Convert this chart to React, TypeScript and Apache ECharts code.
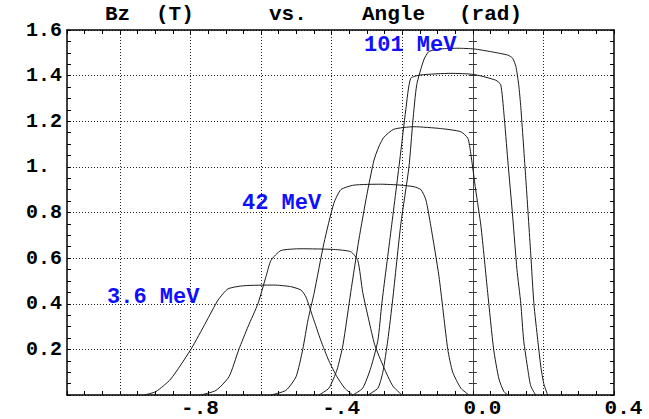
import React, { useEffect, useRef } from "react";
import * as echarts from "echarts";

// ---- data (angle in rad, Bz in T) ----
const c1X = [-0.932, -0.898, -0.856, -0.799, -0.756, -0.722, -0.694, -0.649, -0.564, -0.516, -0.487, -0.473, -0.453, -0.431, -0.408, -0.385, -0.363, -0.34];
const c1Y = [0, 0.015, 0.07, 0.2, 0.32, 0.416, 0.465, 0.479, 0.482, 0.475, 0.46, 0.43, 0.34, 0.24, 0.15, 0.08, 0.03, 0];

const c2X = [-0.771, -0.728, -0.691, -0.663, -0.637, -0.609, -0.586, -0.572, -0.544, -0.487, -0.394, -0.346, -0.326, -0.312, -0.295, -0.278, -0.252, -0.227, -0.201];
const c2Y = [0, 0.02, 0.08, 0.2, 0.3, 0.4, 0.52, 0.59, 0.633, 0.641, 0.638, 0.628, 0.59, 0.45, 0.33, 0.22, 0.12, 0.04, 0];

const c3X = [-0.572, -0.53, -0.501, -0.482, -0.467, -0.45, -0.422, -0.394, -0.374, -0.337, -0.261, -0.204, -0.167, -0.147, -0.133, -0.119, -0.096, -0.071, -0.057, -0.034, -0.011];
const c3Y = [0, 0.02, 0.08, 0.2, 0.33, 0.445, 0.665, 0.84, 0.9, 0.92, 0.924, 0.92, 0.913, 0.9, 0.855, 0.74, 0.52, 0.2, 0.1, 0.03, 0];

const c4X = [-0.436, -0.408, -0.385, -0.368, -0.346, -0.323, -0.3, -0.28, -0.266, -0.252, -0.224, -0.167, -0.091, -0.034, -0.014, -0.006, 0.008, 0.023, 0.042, 0.059, 0.074, 0.088, 0.099];
const c4Y = [0, 0.03, 0.11, 0.22, 0.45, 0.68, 0.88, 1.03, 1.09, 1.13, 1.165, 1.176, 1.168, 1.154, 1.125, 1.06, 0.9, 0.74, 0.45, 0.2, 0.07, 0.015, 0];

const c5X = [-0.34, -0.312, -0.289, -0.269, -0.258, -0.232, -0.207, -0.19, -0.176, -0.147, -0.062, 0.003, 0.065, 0.079, 0.088, 0.099, 0.113, 0.125, 0.136, 0.144, 0.156, 0.164, 0.178];
const c5Y = [0, 0.03, 0.12, 0.24, 0.4, 0.72, 1.03, 1.25, 1.388, 1.403, 1.41, 1.405, 1.38, 1.36, 1.235, 1.03, 0.78, 0.55, 0.4, 0.24, 0.11, 0.04, 0];

const c6X = [-0.297, -0.269, -0.255, -0.241, -0.227, -0.204, -0.181, -0.17, -0.159, -0.139, -0.125, -0.091, -0.042, 0.003, 0.051, 0.099, 0.113, 0.122, 0.13, 0.136, 0.15, 0.164, 0.173, 0.184, 0.193, 0.201, 0.212];
const c6Y = [0, 0.03, 0.1, 0.24, 0.42, 0.75, 1.0, 1.2, 1.36, 1.469, 1.505, 1.517, 1.52, 1.517, 1.505, 1.49, 1.476, 1.44, 1.36, 1.26, 0.95, 0.62, 0.4, 0.24, 0.12, 0.05, 0];

const curvesX = [c1X, c2X, c3X, c4X, c5X, c6X];
const curvesY = [c1Y, c2Y, c3Y, c4Y, c5Y, c6Y];

const xLabelValues = [-0.8, -0.4, 0, 0.4];
const xGridValues = [-1.0, -0.8, -0.6, -0.4, -0.2, 0.2];
const yLabelValues = [0.2, 0.4, 0.6, 0.8, 1.0, 1.2, 1.4, 1.6];

const titleParts = ["Bz", "(T)", "vs.", "Angle", "(rad)"];
const energyLabels = ["101 MeV", "42 MeV", "3.6 MeV"];

const X_MIN = -1.15;
const X_MAX = 0.4;
const Y_MIN = 0;
const Y_MAX = 1.6;

const FONT = "'Liberation Mono', 'Courier New', monospace";

function fmtX(v: number): string {
  const r = Math.round(v * 10) / 10;
  if (r === 0) return "0.0";
  if (r < 0) return "-." + String(Math.round(-r * 10));
  return r.toFixed(1);
}
function fmtY(v: number): string {
  const r = Math.round(v * 10) / 10;
  if (r === 1) return "1.\u00a0";
  return r.toFixed(1);
}

const dotted = { color: "#222", width: 1, type: [1, 2] as number[] };

export default function App() {
  const ref = useRef<HTMLDivElement>(null);
  useEffect(() => {
    if (!ref.current) return;
    const chart = echarts.init(ref.current, undefined, { renderer: "svg" });

    const frameLine = { show: true, onZero: false, lineStyle: { color: "#000", width: 1.5 } };
    const frameTick = { show: true, inside: true, length: 4, lineStyle: { color: "#000", width: 1 } };

    const series: any[] = curvesX.map((xs, i) => ({
      type: "line",
      xAxisIndex: 0,
      yAxisIndex: 0,
      showSymbol: false,
      smooth: 0.2,
      lineStyle: { color: "#1a1a1a", width: 1 },
      data: xs.map((x, j) => [x, curvesY[i][j]]),
      z: 5,
    }));
    series[0].markLine = {
      silent: true,
      symbol: "none",
      label: { show: false },
      lineStyle: dotted,
      data: xGridValues.map((v) => ({ xAxis: v })),
      z: 1,
    };

    const titleFont = `bold 21px ${FONT}`;
    const labelFont = `bold 22px ${FONT}`;

    const option: any = {
      animation: false,
      backgroundColor: "#fff",
      grid: { left: 67, top: 30, right: 35, bottom: 24, containLabel: false, outerBoundsMode: "none" },
      xAxis: [
        {
          type: "value",
          position: "bottom",
          min: X_MIN,
          max: X_MAX,
          interval: 0.05,
          axisLine: frameLine,
          axisTick: frameTick,
          axisLabel: {
            show: true,
            customValues: xLabelValues,
            formatter: fmtX,
            margin: 5,
            lineHeight: 16,
            padding: [0, 0, 0, 19],
            color: "#000",
            fontFamily: FONT,
            fontWeight: "bold",
            fontSize: 21,
          },
          splitLine: { show: false },
        },
        {
          type: "value",
          position: "top",
          min: X_MIN,
          max: X_MAX,
          interval: 0.05,
          axisLine: frameLine,
          axisTick: frameTick,
          axisLabel: { show: false },
          splitLine: { show: false },
        },
      ],
      yAxis: [
        {
          type: "value",
          position: "left",
          min: Y_MIN,
          max: Y_MAX,
          interval: 0.05,
          axisLine: frameLine,
          axisTick: frameTick,
          axisLabel: {
            show: true,
            customValues: yLabelValues,
            formatter: fmtY,
            margin: 5,
            color: "#000",
            fontFamily: FONT,
            fontWeight: "bold",
            fontSize: 20,
          },
          splitLine: { show: false },
        },
        {
          type: "value",
          position: "right",
          min: Y_MIN,
          max: Y_MAX,
          interval: 0.05,
          axisLine: frameLine,
          axisTick: frameTick,
          axisLabel: { show: false },
          splitLine: { show: false },
        },
        {
          type: "value",
          position: "left",
          min: Y_MIN,
          max: Y_MAX,
          interval: 0.2,
          axisLine: { show: false, onZero: false },
          axisTick: { show: false },
          axisLabel: { show: false },
          splitLine: { show: true, lineStyle: dotted },
        },
        {
          type: "value",
          position: "left",
          min: Y_MIN,
          max: Y_MAX,
          interval: 0.05,
          axisLine: { show: true, onZero: true, onZeroAxisIndex: 0, lineStyle: { color: "#444", width: 1 } },
          axisTick: { show: true, inside: true, length: 4, lineStyle: { color: "#333", width: 1 } },
          axisLabel: { show: false },
          splitLine: { show: false },
        },
        {
          type: "value",
          position: "left",
          min: Y_MIN,
          max: Y_MAX,
          interval: 0.05,
          axisLine: { show: false, onZero: true, onZeroAxisIndex: 0 },
          axisTick: { show: true, inside: false, length: 4, lineStyle: { color: "#333", width: 1 } },
          axisLabel: { show: false },
          splitLine: { show: false },
        },
      ],
      graphic: [
        { type: "text", left: 105, top: 4, style: { text: titleParts[0], font: titleFont, fill: "#000" } },
        { type: "text", left: 156, top: 4, style: { text: titleParts[1], font: titleFont, fill: "#000" } },
        { type: "text", left: 269, top: 4, style: { text: titleParts[2], font: titleFont, fill: "#000" } },
        { type: "text", left: 362, top: 4, style: { text: titleParts[3], font: titleFont, fill: "#000" } },
        { type: "text", left: 459, top: 4, style: { text: titleParts[4], font: titleFont, fill: "#000" } },
        { type: "text", left: 364, top: 34, z: 10, style: { text: energyLabels[0], font: labelFont, fill: "#1010ff" } },
        { type: "text", left: 242, top: 192, z: 10, style: { text: energyLabels[1], font: labelFont, fill: "#1010ff" } },
        { type: "text", left: 107, top: 286, z: 10, style: { text: energyLabels[2], font: labelFont, fill: "#1010ff" } },
      ],
      series,
    };
    chart.setOption(option);
    return () => chart.dispose();
  }, []);
  return <div ref={ref} style={{ width: 649, height: 419, position: "absolute", left: 0, top: 0 }} />;
}
